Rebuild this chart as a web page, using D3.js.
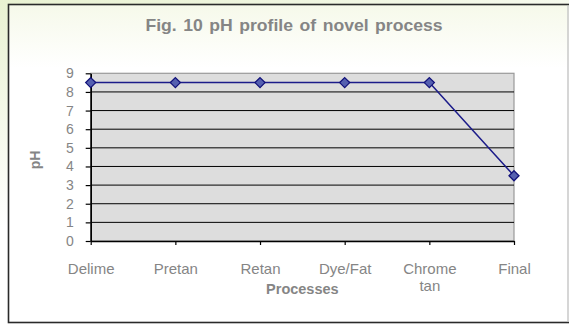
<!DOCTYPE html>
<html lang="en">
<head>
    <title>Fig. 10 pH profile</title>
    <meta charset="utf-8">
    <script src="https://d3js.org/d3.v7.min.js"></script>
    <style>
        body { margin: 0; background: #fff; }
        text { font-family: "Liberation Sans", Arial, sans-serif; fill: #858585; }
    </style>
</head>
<body>
<div id="chart"></div>
<script>
    // Data
    const categories = ["Delime", "Pretan", "Retan", "Dye/Fat", "Chrome tan", "Final"];
    const phValues = [8.5, 8.5, 8.5, 8.5, 8.5, 3.5];
    const yTicks = [0, 1, 2, 3, 4, 5, 6, 7, 8, 9];

    const W = 569, H = 324;
    const plot = {left: 90.7, right: 514, top: 73.3, bottom: 241};

    const svg = d3.select("#chart").append("svg")
        .attr("width", W)
        .attr("height", H);

    // background gradients
    const defs = svg.append("defs");
    const bg = defs.append("linearGradient").attr("id", "bg")
        .attr("x1", 0).attr("y1", 0).attr("x2", 0.25).attr("y2", 0.6);
    bg.append("stop").attr("offset", 0).attr("stop-color", "#e9f2d2");
    bg.append("stop").attr("offset", 1).attr("stop-color", "#ffffff");
    const inner = defs.append("linearGradient").attr("id", "inner")
        .attr("x1", 0).attr("y1", 0).attr("x2", 0).attr("y2", 1);
    inner.append("stop").attr("offset", 0).attr("stop-color", "#f6f9ea");
    inner.append("stop").attr("offset", 0.2).attr("stop-color", "#ffffff");
    inner.append("stop").attr("offset", 1).attr("stop-color", "#ffffff");

    svg.append("rect").attr("width", W).attr("height", H).attr("fill", "url(#bg)");

    // chart box
    svg.append("rect")
        .attr("x", 8.5).attr("y", 4.5)
        .attr("width", 562).attr("height", 318)
        .attr("fill", "url(#inner)")
        .attr("stroke", "#2a2a2a")
        .attr("stroke-width", 1.6);
    svg.append("line")
        .attr("x1", 568).attr("x2", 568).attr("y1", 6).attr("y2", 321)
        .attr("stroke", "#c8c8c8").attr("stroke-width", 1.5);

    // title (the source picture is slightly stretched horizontally)
    svg.append("text")
        .attr("transform", "translate(294,31) scale(1.1,1)")
        .attr("text-anchor", "middle")
        .attr("font-size", 16).attr("font-weight", "bold")
        .attr("word-spacing", 1.5)
        .text("Fig. 10 pH profile of novel process");

    // scales
    const x = d3.scalePoint()
        .domain(categories)
        .range([plot.left, plot.right])
        .padding(0);
    const y = d3.scaleLinear()
        .domain([0, 9])
        .range([plot.bottom, plot.top]);

    // plot area
    svg.append("rect")
        .attr("x", plot.left).attr("y", plot.top)
        .attr("width", plot.right - plot.left)
        .attr("height", plot.bottom - plot.top)
        .attr("fill", "#dddddd")
        .attr("stroke", "#9a9a9a")
        .attr("stroke-width", 1.2);

    // gridlines
    svg.append("g")
        .selectAll("line")
        .data(yTicks.filter(d => d > 0 && d < 9))
        .join("line")
        .attr("x1", plot.left).attr("x2", plot.right)
        .attr("y1", d => y(d)).attr("y2", d => y(d))
        .attr("stroke", "#000")
        .attr("stroke-width", 1);

    // y axis
    const yAxis = svg.append("g")
        .attr("transform", `translate(${plot.left},0)`)
        .call(d3.axisLeft(y).tickValues(yTicks).tickSize(5).tickPadding(12).tickSizeOuter(0));
    yAxis.select(".domain").attr("stroke", "#000").attr("stroke-width", 1.6);
    yAxis.selectAll(".tick line").attr("stroke", "#000").attr("stroke-width", 1.2);
    yAxis.selectAll("text")
        .attr("font-size", 14)
        .attr("font-family", "Liberation Sans, Arial, sans-serif")
        .attr("fill", "#858585");

    // x axis
    const xAxis = svg.append("g")
        .attr("transform", `translate(0,${plot.bottom})`)
        .call(d3.axisBottom(x).tickSize(4).tickPadding(18).tickSizeOuter(0));
    xAxis.select(".domain").attr("stroke", "#000").attr("stroke-width", 1.6);
    xAxis.selectAll(".tick line").attr("stroke", "#000").attr("stroke-width", 1.2);
    xAxis.selectAll("text")
        .attr("font-size", 15)
        .attr("font-family", "Liberation Sans, Arial, sans-serif")
        .attr("fill", "#858585")
        .each(function (d) {
            const words = d.split(" ");
            if (words.length < 2) return;
            const t = d3.select(this).text(null);
            words.forEach((w, i) => {
                t.append("tspan")
                    .attr("x", 0)
                    .attr("dy", i === 0 ? "0.71em" : "1.15em")
                    .text(w);
            });
        });

    // axis titles
    svg.append("text")
        .attr("x", (plot.left + plot.right) / 2).attr("y", 294)
        .attr("text-anchor", "middle")
        .attr("font-size", 14.5).attr("font-weight", "bold")
        .text("Processes");
    svg.append("text")
        .attr("transform", "translate(40,160) rotate(-90)")
        .attr("text-anchor", "middle")
        .attr("font-size", 14).attr("font-weight", "bold")
        .text("pH");

    // line + markers
    const pts = categories.map((c, i) => [x(c), y(phValues[i])]);
    svg.append("path")
        .attr("d", d3.line()(pts))
        .attr("fill", "none")
        .attr("stroke", "#1c1c8a")
        .attr("stroke-width", 1.5);
    svg.append("g")
        .selectAll("path")
        .data(pts)
        .join("path")
        .attr("transform", d => `translate(${d[0]},${d[1]})`)
        .attr("d", "M0,-5L5,0L0,5L-5,0Z")
        .attr("fill", "#5560b0")
        .attr("stroke", "#12127a")
        .attr("stroke-width", 1.3);
</script>
</body>
</html>
